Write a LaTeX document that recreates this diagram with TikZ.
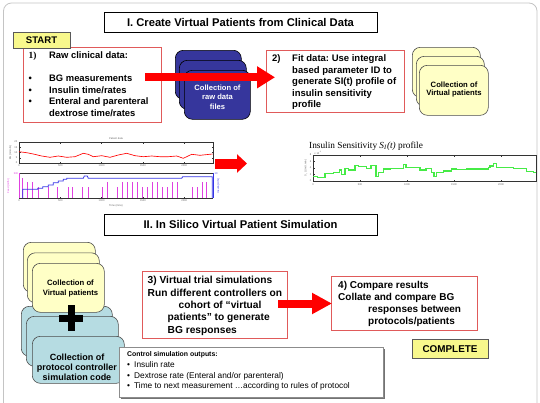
\documentclass[tikz,border=0pt]{standalone}
\usepackage{fontspec}
\setmainfont{Liberation Sans}
\newfontfamily\tms{Liberation Serif}
\usetikzlibrary{arrows.meta}
\frenchspacing
\definecolor{boxred}{HTML}{E05A5A}
\definecolor{arrred}{HTML}{FF0000}
\definecolor{navy}{HTML}{36369C}
\definecolor{pale}{HTML}{FFFFC6}
\definecolor{teal2}{HTML}{B6DCE2}
\definecolor{tagyel}{HTML}{F8F88C}
\definecolor{framegray}{HTML}{C4C4C4}
\definecolor{mag}{HTML}{E040E0}
\definecolor{bline}{HTML}{3535E6}
\definecolor{sigreen}{RGB}{70,235,70}
\tikzset{
  redbox/.style={draw=boxred, line width=0.9pt, fill=white, inner sep=0pt, anchor=north west},
  ttlbox/.style={draw=black, line width=1pt, fill=white, inner sep=0pt, anchor=north west},
  tagbox/.style={draw=black!65, line width=1pt, fill=tagyel, inner sep=0pt, anchor=north west},
  card/.style={rounded corners=8pt, line width=0.6pt, anchor=north west, inner sep=0pt},
  navycard/.style={card, draw=black, fill=navy},
  palecard/.style={card, draw=black!70, fill=pale},
  tealcard/.style={card, draw=black!70, fill=teal2},
  txt/.style={inner sep=0pt, anchor=north west, align=left},
  ctxt/.style={inner sep=0pt, align=center},
  bigarrow/.style={draw=arrred, line width=#1},
  tinyt/.style={inner sep=0pt, font=\fontsize{2.6}{3}\selectfont, text=black!60},
  axisline/.style={line width=0.4pt, draw=black!80}
}
\begin{document}
\begin{tikzpicture}[x=1pt,y=-1pt]
\useasboundingbox (0,0) rectangle (540,402);
% outer frame
\draw[framegray, line width=0.8pt, rounded corners=8pt] (3.5,3) rectangle (537,430);

% ---------- Part I ----------
\node[ttlbox, minimum width=273pt, minimum height=20pt] (title1) at (104,12) {};
\node[ctxt, font=\bfseries\fontsize{11.2}{13}\selectfont] (title1t) at (240.5,22.3) {I. Create Virtual Patients from Clinical Data};

\node[redbox, minimum width=138pt, minimum height=75pt] (b1) at (23,47) {};
\node[tagbox, minimum width=57pt, minimum height=16pt] (start) at (13,32) {};
\node[ctxt, font=\bfseries\fontsize{9.6}{11}\selectfont] (startt) at (41.5,40.3) {START};
\node[txt, font=\bfseries\fontsize{9.4}{11.6}\selectfont] (t1) at (28.5,51.4)
 {\makebox[20.5pt][l]{\tms\bfseries 1)}Raw clinical data:\\[11.6pt]
  \makebox[20.5pt][l]{\textbullet}BG measurements\\
  \makebox[20.5pt][l]{\textbullet}Insulin time/rates\\
  \makebox[20.5pt][l]{\textbullet}Enteral and parenteral\\
  \makebox[20.5pt][l]{}dextrose time/rates};

% navy stack
\node[navycard, minimum width=66pt, minimum height=49pt] (nv1) at (175,50) {};
\node[navycard, minimum width=67pt, minimum height=49pt] (nv2) at (179,60) {};
\node[navycard, minimum width=66pt, minimum height=49pt] (nv3) at (184,70) {};
\node[ctxt, text=white, font=\bfseries\fontsize{7.6}{9.5}\selectfont] (nvt) at (217.5,97) {Collection of\\raw data\\files};

\node[redbox, minimum width=138pt, minimum height=62pt] (b2) at (266,50) {};
\node[txt, font=\bfseries\fontsize{9.5}{11.5}\selectfont] (t2) at (272,54.6)
 {\makebox[20pt][l]{2)}Fit data: Use integral\\
  \hspace*{20pt}based parameter ID to\\
  \hspace*{20pt}generate SI(t) profile of\\
  \hspace*{20pt}insulin sensitivity\\
  \hspace*{20pt}profile};

% pale stack right
\node[palecard, minimum width=68pt, minimum height=50pt] (vp1) at (412,47) {};
\node[palecard, minimum width=68pt, minimum height=50pt] (vp2) at (416,56) {};
\node[palecard, minimum width=69pt, minimum height=50pt] (vp3) at (419,65) {};
\node[ctxt, font=\bfseries\fontsize{7.7}{8.8}\selectfont] (vpt) at (454,89.5) {Collection of\\Virtual patients};

% arrow 1
\coordinate (a1s) at (145,77.3);
\coordinate (a1e) at (275,77.3);
\draw[bigarrow=8pt, -{Triangle[length=18pt,width=21pt]}] (a1s) -- (a1e);

% ---------- clinical data plots ----------
% top plot
\draw[axisline] (19,142) rectangle (213,163);
\foreach \k in {1,...,4} {\draw[axisline] (19+41.3*\k,163) -- ++(0,-1.5) (19+41.3*\k,142) -- ++(0,1.5);}
\foreach \k in {1,...,3} {\draw[axisline] (19,142+5.25*\k) -- ++(1.5,0) (213,142+5.25*\k) -- ++(-1.5,0);}
\foreach \k/\v in {0/0,1/500,2/1000,3/1500,4/2000} {\node[tinyt] (tpx\k) at (19+41.3*\k,166) {\v};}
\foreach \k/\v in {0/20,1/15,2/10,3/5,4/0} {\node[tinyt, anchor=east] (tpy\k) at (17.5,142+5.25*\k) {\v};}
\node[tinyt] (tptitle) at (116,139) {Patient data};
\node[tinyt, rotate=90] (tpylab) at (10.5,152.5) {BG (mmol/L)};
\draw[red, line width=0.65pt] plot coordinates {(19,151.7) (26.7,152.7) (33.3,154) (41.7,156) (50,157.3) (58.3,156) (66.7,157.3) (75,156.7) (83.3,153.3) (88.3,154.3) (93.3,156.7) (101.7,155.7) (110,157.3) (118.3,155) (126.7,153.3) (135,155.7) (143.3,156.7) (151.7,156) (160,156.7) (168.3,156.7) (176.7,156) (183.3,158.3) (191.7,154.3) (200,155.3) (212.5,154)};

% bottom plot
\draw[axisline] (19,173) -- (213,173) (19,198) -- (213,198);
\foreach \x/\t in {22.7/178.3,27.7/181.7,32.7/181.7,38.3/186.7,48.3/186.7,57.3/186.7,68.3/186.7,72.7/186.7,82.3/186.7,88.3/186.7,102.7/186.7,107.3/181.7,117.3/186.7,122.3/181.7,127.7/181.7,132.3/181.7,137.7/181.7,142.7/186.7,147.7/186.7,152.7/181.7,157.3/181.7,162.7/186.7,167.7/186.7,172.7/181.7,177.7/181.7,192.7/186.7,197.3/186.7,202/181.7,206.7/181.7}
  {\draw[mag, line width=0.8pt] (\x,198) -- (\x,\t);}
\draw[bline, line width=0.8pt] (22.7,198) -- (22.7,189.3) -- (37.7,189.3) -- (37.7,188.3) -- (42.7,188.3) -- (42.7,186.7) -- (48.3,186.7) -- (48.3,185) -- (53.3,185) -- (53.3,182.7) -- (58.3,182.7) -- (58.3,181) -- (63.3,181) -- (63.3,179.3) -- (66.7,179.3) -- (66.7,178.3) -- (83.3,178.3) -- (84.3,176) -- (87.3,176) -- (88.3,178.3) -- (181.7,178.3) -- (182.7,176.7) -- (212.3,176.7) -- (212.3,198);
\draw[mag, line width=0.6pt] (19,173) -- (19,198);
\draw[bline, line width=0.6pt] (213,173) -- (213,198);
\foreach \k in {1,...,4} {\draw[axisline] (19+41.3*\k,198) -- ++(0,-1.5);}
\foreach \k/\v in {0/0,1/500,2/1000,3/1500,4/2000} {\node[tinyt] (bpx\k) at (19+41.3*\k,201) {\v};}
\node[tinyt] (bpxlab) at (116,205.5) {Time (mins)};
\node[tinyt, rotate=90, text=mag] (bpyl) at (8.5,186) {Feed (ml/hr)};
\node[tinyt, rotate=90, text=bline] (bpyr) at (218.5,186) {Insulin (U/hr)};
\node[tinyt, text=mag] (bpy0) at (16,173.5) {500};
\node[tinyt, text=bline] (bpy1) at (216,173.5) {10};

% block arrow between plots
\coordinate (a3s) at (215,163.5);
\coordinate (a3e) at (247,163.5);
\draw[bigarrow=10pt, -{Triangle[length=10pt,width=18pt]}] (a3s) -- (a3e);

% right plot: insulin sensitivity
\node[anchor=west, inner sep=0pt, font=\tms\fontsize{9.3}{11}\selectfont] (sititle) at (309,146.5) {Insulin Sensitivity \textit{S}\textsubscript{\textit{I}}\textit{(t)} profile};
\draw[axisline] (313,155) rectangle (536,181);
\foreach \k in {1,...,4} {\draw[axisline] (313+47*\k,181) -- ++(0,-1.5) (313+47*\k,155) -- ++(0,1.5);}
\foreach \k in {1,...,3} {\draw[axisline] (313,155+6.5*\k) -- ++(1.5,0);}
\foreach \k/\v in {0/0,1/500,2/1000,3/1500,4/2000} {\node[tinyt] (spx\k) at (313+47*\k,185) {\v};}
\foreach \k/\v in {0/8,1/6,2/4,3/2,4/0} {\node[tinyt, anchor=east] (spy\k) at (311.5,155+6.5*\k) {\v};}
\node[tinyt] (spexp) at (318,152.5) {x 10\textsuperscript{-3}};
\node[tinyt, rotate=90] (spylab) at (306,168) {S\textsubscript{I} (L/mU.min)};
\draw[sigreen, line width=1.1pt] (313.3,176.7) -| (317.3,177.7) -| (325,173.3) -| (333.3,172.3) -| (339.3,170) -| (341.7,174.3) -| (345,168.3) -| (348.3,170) -| (355,165.7) -| (358.3,166.7) -| (366.7,168.3) -| (371,165.7) -| (376,176.7) -| (378.3,172.7) -| (383.3,169) -| (390,168.3) -| (403.3,164.3) -| (406,167.3) -| (410,167.7) -| (420,170) -| (426,168.3) -| (431.7,172.7) -| (434,176.7) -| (436.7,172.7) -| (443.3,171) -| (451.7,169) -| (456.7,169.3) -| (466.7,169) -| (488.3,167.3) -| (490,166) -| (493.3,163.3) -| (496.7,167.3) -| (500,167.7) -| (513.3,168.7) -| (526.7,171.7) -| (533.3,172.7) -- (536,172.7);

% ---------- Part II ----------
\node[ttlbox, minimum width=273pt, minimum height=21pt] (title2) at (104,214) {};
\node[ctxt, font=\bfseries\fontsize{11.2}{13}\selectfont] (title2t) at (240.5,224.8) {II. In Silico Virtual Patient Simulation};

% teal stack
\node[tealcard, minimum width=91pt, minimum height=50pt] (tc1) at (21,306) {};
\node[tealcard, minimum width=92pt, minimum height=50pt] (tc2) at (26,316) {};
% pale stack left
\node[palecard, minimum width=72pt, minimum height=50pt] (lp1) at (23,242) {};
\node[palecard, minimum width=72pt, minimum height=50pt] (lp2) at (27,252.5) {};
\node[palecard, minimum width=72pt, minimum height=49pt] (lp3) at (32,263) {};
\node[ctxt, font=\bfseries\fontsize{7.7}{10.3}\selectfont] (lpt) at (70.5,288.5) {Collection of\\Virtual patients};
\node[tealcard, minimum width=92pt, minimum height=47pt] (tc3) at (32,336) {};
\node[ctxt, font=\bfseries\fontsize{9}{10}\selectfont] (tct) at (77,367.5) {Collection of\\protocol controller\\simulation code};
% plus
\fill[black] (67.5,305) rectangle (74.5,331);
\fill[black] (59,314.5) rectangle (83,321.5);

\node[redbox, minimum width=145pt, minimum height=67pt] (b3) at (142,271) {};
\node[txt, font=\bfseries\fontsize{10.2}{12.3}\selectfont] (t3) at (147.5,276.3)
 {3) Virtual trial simulations\\
  Run different controllers on\\
  \hspace*{31pt}cohort of “virtual\\
  \hspace*{20pt}patients” to generate\\
  \hspace*{20pt}BG responses};

\node[redbox, minimum width=146pt, minimum height=54pt] (b4) at (331,276) {};
\node[txt, font=\bfseries\fontsize{10}{12}\selectfont] (t4) at (338,281.3)
 {4) Compare results\\
  Collate and compare BG\\
  \hspace*{30pt}responses between\\
  \hspace*{30pt}protocols/patients};

\coordinate (a2s) at (278,303.5);
\coordinate (a2e) at (332,303.5);
\draw[bigarrow=8pt, -{Triangle[length=20pt,width=20pt]}] (a2s) -- (a2e);

\node[tagbox, minimum width=76pt, minimum height=19pt] (complete) at (412,339) {};
\node[ctxt, font=\bfseries\fontsize{9.9}{11}\selectfont] (completet) at (450,348.8) {COMPLETE};

% control outputs box
\fill[black!55] (120.5,348.5) rectangle (384.5,398.5);
\node[draw=black!45, line width=0.6pt, fill=white, inner sep=0pt, anchor=north west, minimum width=264pt, minimum height=50pt] (ctl) at (119,347) {};
\node[txt, font=\fontsize{8.3}{10.8}\selectfont] (ctlt) at (127,351.2)
 {{\bfseries\fontsize{6.9}{10.8}\selectfont Control simulation outputs:}\\
  \makebox[7pt][l]{\textbullet}Insulin rate\\
  \makebox[7pt][l]{\textbullet}Dextrose rate (Enteral and/or parenteral)\\
  \makebox[7pt][l]{\textbullet}Time to next measurement …according to rules of protocol};
\end{tikzpicture}
\end{document}
